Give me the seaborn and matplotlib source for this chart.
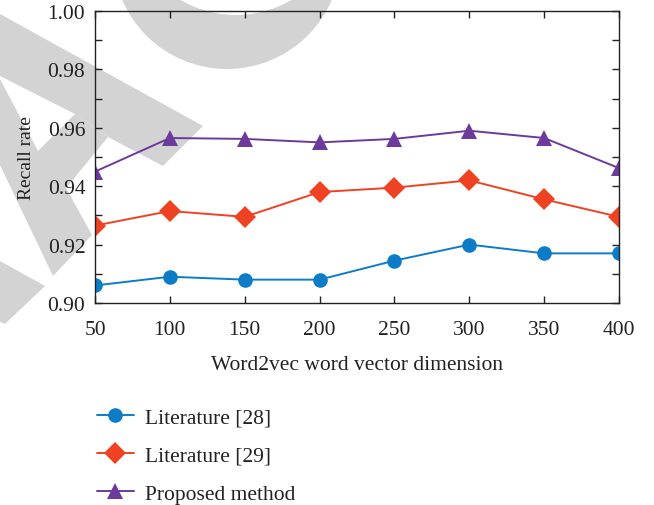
import numpy as np
import pandas as pd
import seaborn as sns
import matplotlib
matplotlib.use("Agg")
import matplotlib.pyplot as plt
from matplotlib.patches import Polygon, Circle
from matplotlib.transforms import Affine2D
from matplotlib.ticker import MultipleLocator

# Word2vec dimensions and recall rates per method
dimensions = [50, 100, 150, 200, 250, 300, 350, 400]
lit28 = [0.906, 0.909, 0.908, 0.908, 0.9145, 0.920, 0.917, 0.917]
lit29 = [0.9265, 0.9315, 0.9295, 0.938, 0.9395, 0.942, 0.9355, 0.9295]
proposed = [0.945, 0.9565, 0.9562, 0.955, 0.9562, 0.959, 0.9565, 0.9462]
series_names = ["Literature [28]", "Literature [29]", "Proposed method"]

colors = {"Literature [28]": "#0c7cc9", "Literature [29]": "#ef4223", "Proposed method": "#6c3a9a"}
markers = {"Literature [28]": "o", "Literature [29]": "D", "Proposed method": "^"}
msizes = {"Literature [28]": 10.5, "Literature [29]": 11, "Proposed method": 11.5}

df = pd.DataFrame({
    "dim": dimensions * 3,
    "recall": lit28 + lit29 + proposed,
    "method": np.repeat(series_names, len(dimensions)),
})

sns.set_theme(style="ticks")
plt.rcParams["font.family"] = ["Liberation Serif", "DejaVu Serif"]

FS = 15.5
W, H = 654, 506
fig = plt.figure(figsize=(W / 100, H / 100), dpi=100)

# light grey backdrop drawn in pixel coordinates (origin top-left)
px = Affine2D().scale(1 / W, -1 / H).translate(0, 1) + fig.transFigure
grey = "#d3d3d3"
shapes = [
    [(0, 15), (203, 127), (163, 167), (108, 138), (75, 115), (0, 77)],
    [(0, 80), (38, 152), (75, 115), (108, 138), (66, 189), (92, 236), (53, 277), (0, 166)],
    [(0, 262), (45, 287), (5, 325), (0, 323)],
]
for pts in shapes:
    fig.patches.append(Polygon(pts, closed=True, transform=px, facecolor=grey,
                               edgecolor="none", zorder=0))
fig.patches.append(Circle((227, -44), 114, transform=px, facecolor=grey,
                          edgecolor="none", zorder=0))
fig.patches.append(Circle((236, -94), 110, transform=px, facecolor="white",
                          edgecolor="none", zorder=0))

ax = fig.add_axes([95 / W, 1 - 304 / H, (619 - 95) / W, (304 - 12) / H])
ax.set_zorder(3)
ax.patch.set_alpha(0)

for name in series_names:
    sub = df[df["method"] == name]
    sns.lineplot(data=sub, x="dim", y="recall", ax=ax, color=colors[name],
                 marker=markers[name], markersize=msizes[name], markeredgewidth=0,
                 linewidth=1.4, label=name, legend=False)

ax.set_xlim(50, 400)
ax.set_ylim(0.90, 1.00)
ax.set_xticks(dimensions)
ax.set_yticks([0.90, 0.92, 0.94, 0.96, 0.98, 1.00])
ax.yaxis.set_minor_locator(MultipleLocator(0.01))
ax.set_yticklabels(["0.90", "0.92", "0.94", "0.96", "0.98", "1.00"])
ax.tick_params(axis="both", which="both", direction="in", top=True, right=True,
               length=5, width=1, colors="#222222", labelsize=FS, labelcolor="#222222")
ax.tick_params(axis="x", pad=12)
ax.tick_params(axis="y", pad=7)
for s in ax.spines.values():
    s.set_color("#222222")
    s.set_linewidth(1)

ax.set_xlabel("Word2vec word vector dimension", fontsize=FS, color="#222222", labelpad=12)
ax.set_ylabel("Recall rate", fontsize=14, color="#222222", labelpad=9)

handles, labels = ax.get_legend_handles_labels()
fig.legend(handles, labels, loc="upper left", bbox_to_anchor=(88 / W, 1 - 400 / H),
           frameon=False, fontsize=FS, handlelength=1.75, handletextpad=0.5,
           labelspacing=0.84, borderaxespad=0, labelcolor="#222222")

fig.savefig("out.png", dpi=100)
